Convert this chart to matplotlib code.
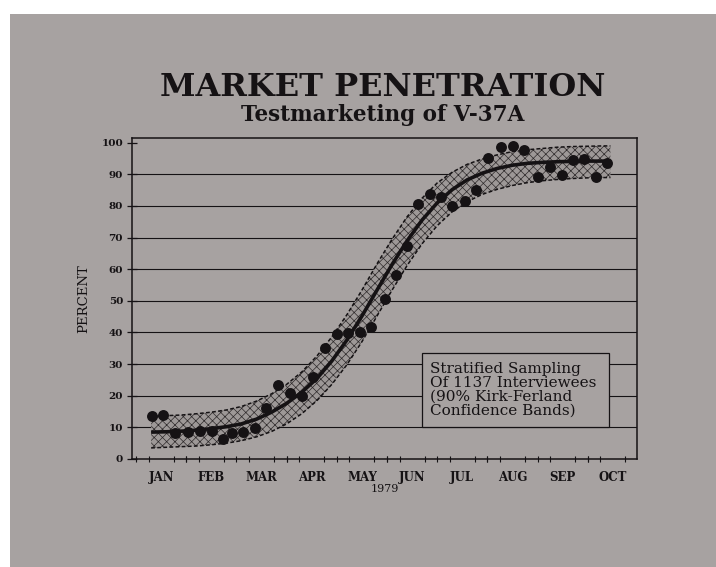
import numpy as np
import matplotlib
matplotlib.use("Agg")
import matplotlib.pyplot as plt
from matplotlib.patches import Rectangle

# weekly survey results, x in months from 1 Jan 1979
week_pos = [0.32, 0.54, 0.78, 1.04, 1.27, 1.51, 1.74, 1.91, 2.14, 2.37,
            2.59, 2.83, 3.07, 3.31, 3.53, 3.76, 4.01, 4.23, 4.46, 4.68,
            4.95, 5.17, 5.39, 5.61, 5.85, 6.08, 6.30, 6.55, 6.77, 7.02,
            7.27, 7.50, 7.73, 8.00, 8.25, 8.48, 8.71, 8.93, 9.16, 9.38]
penetration = [13.6, 13.9, 8.3, 8.4, 8.7, 8.9, 6.2, 8.1, 8.4, 9.9,
               16.0, 23.4, 21.0, 19.8, 26.0, 35.0, 39.6, 39.8, 40.1, 41.8,
               50.5, 58.3, 67.5, 80.6, 83.9, 82.7, 80.0, 81.7, 85.0, 95.2,
               98.5, 98.9, 97.7, 89.2, 92.3, 89.8, 94.6, 94.9, 89.1, 93.5]

# fitted trend and 90% confidence band
fit_pos = [0.3, 0.6, 0.9, 1.2, 1.5, 1.8, 2.1, 2.4, 2.7, 3.0, 3.3, 3.6, 3.9,
           4.2, 4.5, 4.8, 5.1, 5.4, 5.7, 6.0, 6.3, 6.6, 6.9, 7.2, 7.5, 7.8,
           8.1, 8.4, 8.7, 9.0, 9.3, 9.45]
fit_mid = [8.5, 8.6, 8.8, 9.1, 9.6, 10.2, 11.1, 12.6, 14.8, 17.6, 21.1, 25.4,
           31.0, 37.6, 45.2, 53.4, 61.5, 69.0, 75.6, 81.0, 85.2, 88.3, 90.4,
           91.9, 92.9, 93.5, 93.8, 94.0, 94.1, 94.2, 94.2, 94.2]
band_hi = [13.5, 13.7, 13.9, 14.3, 14.8, 15.5, 16.6, 18.3, 20.6, 23.6, 27.5,
           32.5, 38.6, 45.6, 53.4, 61.7, 69.5, 76.6, 82.5, 87.3, 90.7, 93.2,
           94.9, 96.2, 97.2, 97.8, 98.2, 98.6, 98.8, 98.9, 99.0, 99.0]
band_lo = [3.5, 3.7, 3.9, 4.1, 4.5, 5.0, 5.8, 7.0, 8.7, 11.1, 14.3, 18.4,
           23.6, 29.8, 37.1, 45.2, 53.4, 61.2, 68.1, 73.8, 78.2, 81.4, 83.7,
           85.3, 86.5, 87.4, 88.0, 88.4, 88.7, 88.9, 89.0, 89.0]

months = ["JAN", "FEB", "MAR", "APR", "MAY", "JUN", "JUL", "AUG", "SEP", "OCT"]
note = "Stratified Sampling\nOf 1137 Interviewees\n(90% Kirk-Ferland\nConfidence Bands)"

paper = "#a7a2a1"
ink = "#151214"
plt.rcParams["hatch.linewidth"] = 0.5
plt.rcParams["hatch.color"] = "#2e2a2b"

fig = plt.figure(figsize=(7.16, 5.67), dpi=100, facecolor="white")
# grey card behind everything
fig.patches.append(Rectangle((0.014, 0.0), 1.0, 0.975, transform=fig.transFigure,
                             facecolor=paper, edgecolor="none", zorder=-5))

fig.text(0.535, 0.845, "MARKET PENETRATION", ha="center", va="center",
         family="DejaVu Serif", weight="bold", fontsize=23, color=ink)
fig.text(0.535, 0.797, "Testmarketing of V-37A", ha="center", va="center",
         family="DejaVu Serif", weight="bold", fontsize=15.5, color=ink)

ax = fig.add_axes([0.1844, 0.1905, 0.7053, 0.5661])
ax.set_zorder(2)
ax.set_facecolor(paper)
ax.set_xlim(-0.08, 9.98)
ax.set_ylim(0, 101.5)

for v in range(10, 100, 10):
    ax.axhline(v, color=ink, lw=0.8, zorder=1)

ax.fill_between(fit_pos, band_lo, band_hi, facecolor="#9d9897", hatch="xxxx",
                edgecolor="#2e2a2b", linewidth=0, zorder=2)
ax.plot(fit_pos, band_hi, color=ink, lw=1.1, ls=(0, (2.5, 1.5)), zorder=3)
ax.plot(fit_pos, band_lo, color=ink, lw=1.1, ls=(0, (2.5, 1.5)), zorder=3)
ax.plot(fit_pos, fit_mid, color=ink, lw=2.6, zorder=4, solid_capstyle="butt")
ax.scatter(week_pos, penetration, s=62, color=ink, zorder=5, linewidths=0)

ax.add_patch(Rectangle((5.69, 10.1), 3.73, 23.4, facecolor=paper,
                       edgecolor=ink, lw=0.9, zorder=6))
ax.text(5.86, 21.8, note, ha="left", va="center", family="DejaVu Serif",
        fontsize=11, color=ink, linespacing=1.0, zorder=7)

for side in ax.spines.values():
    side.set_color(ink)
    side.set_linewidth(1.1)

ax.set_yticks(range(0, 101, 10))
ax.set_yticklabels([str(v) for v in range(0, 101, 10)], family="DejaVu Serif",
                   weight="bold", fontsize=7.5, color=ink)
ax.set_xticks([m + 0.5 for m in range(10)])
ax.set_xticklabels(months, family="DejaVu Serif", weight="bold", fontsize=8.5,
                   color=ink)
ax.tick_params(axis="x", length=0, pad=9)
ax.set_xticks([1, 3, 5, 7, 9] + [w / 4 for w in range(0, 40)], minor=True)
ax.tick_params(axis="x", which="minor", direction="inout", length=4, width=0.8,
               color=ink)
ax.tick_params(axis="y", direction="inout", length=7, width=0.9, color=ink, pad=3)

ax.set_xlabel("1979", family="DejaVu Serif", fontsize=8, color=ink, labelpad=0)
ax.set_ylabel("PERCENT", family="DejaVu Serif", fontsize=9.5, color=ink,
              labelpad=8)

fig.savefig("out.png", dpi=100, facecolor="white")
